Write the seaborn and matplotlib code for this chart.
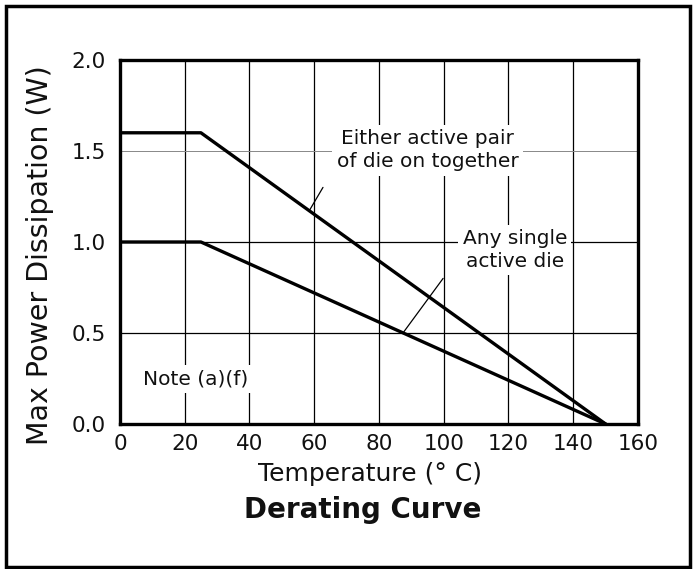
import matplotlib
matplotlib.use("Agg")
import matplotlib.pyplot as plt
import seaborn as sns
import pandas as pd
from matplotlib.patches import Rectangle

# Data
temp_points = [0, 25, 150]
pair_power = [1.6, 1.6, 0.0]
single_power = [1.0, 1.0, 0.0]
x_ticks = [0, 20, 40, 60, 80, 100, 120, 140, 160]
y_ticks = [0.0, 0.5, 1.0, 1.5, 2.0]
x_tick_labels = ["0", "20", "40", "60", "80", "100", "120", "140", "160"]
y_tick_labels = ["0.0", "0.5", "1.0", "1.5", "2.0"]

df = pd.DataFrame({
    "Temperature": temp_points * 2,
    "Power": pair_power + single_power,
    "Series": ["pair"] * 3 + ["single"] * 3,
})

sns.set_theme(style="white")
plt.rcParams["font.family"] = ["DejaVu Sans"]
plt.rcParams["text.color"] = "black"

fig = plt.figure(figsize=(6.94, 5.69), dpi=100)
ax = fig.add_axes([0.1729, 0.2548, 0.7464, 0.6398])

sns.lineplot(data=df, x="Temperature", y="Power", hue="Series",
             palette={"pair": "black", "single": "black"},
             linewidth=2.4, legend=False, ax=ax, zorder=3)

ax.set_xlim(0, 160)
ax.set_ylim(0, 2.0)
ax.set_xticks(x_ticks)
ax.set_xticklabels(x_tick_labels)
ax.set_yticks(y_ticks)
ax.set_yticklabels(y_tick_labels)
ax.tick_params(axis="both", length=0, labelsize=15.5, colors="#111111")
ax.tick_params(axis="x", pad=7)
ax.tick_params(axis="y", pad=10)
ax.grid(True, color="black", linewidth=0.9)
ygl = ax.get_ygridlines()
ygl[3].set_color("#888888")
ygl[3].set_linewidth(0.7)
ax.set_axisbelow(True)
for s in ax.spines.values():
    s.set_visible(True)
    s.set_color("black")
    s.set_linewidth(2.4)
    s.set_zorder(5)

ax.set_xlabel("Temperature (° C)", fontsize=18, color="#111111")
ax.xaxis.set_label_coords(0.483, -0.105)
ax.set_ylabel("Max Power Dissipation (W)", fontsize=20.5, color="#111111")
ax.yaxis.set_label_coords(-0.128, 0.464)

fig.text(0.523, 0.104, "Derating Curve", fontsize=20, fontweight="bold",
         ha="center", va="center", color="#111111")

box = dict(facecolor="white", edgecolor="none", pad=3)
arrow = dict(arrowstyle="-", color="black", linewidth=0.9, shrinkA=0, shrinkB=0)

ax.annotate("", xy=(58.4, 1.17), xytext=(62.7, 1.30), arrowprops=arrow, zorder=4)
ax.text(95, 1.505, "Either active pair\nof die on together", fontsize=14.5,
        ha="center", va="center", linespacing=1.3, bbox=box, zorder=4,
        color="#111111")

ax.annotate("", xy=(87.4, 0.50), xytext=(99.8, 0.80), arrowprops=arrow, zorder=4)
ax.text(122, 0.956, "Any single\nactive die", fontsize=14.5,
        ha="center", va="center", linespacing=1.3, bbox=box, zorder=4,
        color="#111111")

ax.text(7.1, 0.247, "Note (a)(f)", fontsize=14.5, ha="left", va="center",
        bbox=box, zorder=4, color="#111111")

fig.patches.append(Rectangle((0.009, 0.004), 0.985, 0.985, transform=fig.transFigure,
                             fill=False, edgecolor="black", linewidth=2.5))

fig.savefig("out.png", dpi=100, facecolor="white")
